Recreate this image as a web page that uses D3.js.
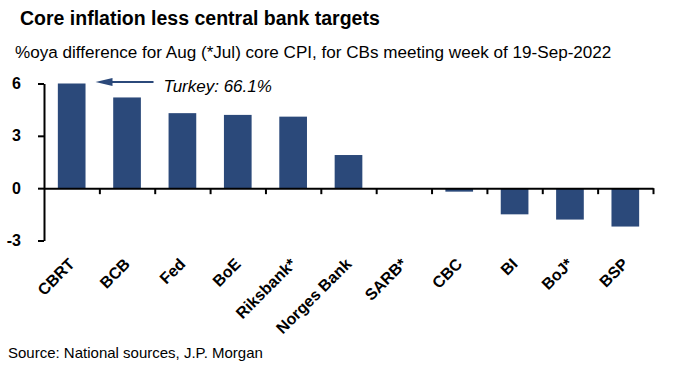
<!DOCTYPE html>
<html>
<head>
<meta charset="utf-8">
<script src="https://cdnjs.cloudflare.com/ajax/libs/d3/7.8.5/d3.min.js"></script>
<style>
  body { margin: 0; background: #fff; }
  svg text { font-family: "Liberation Sans", Arial, sans-serif; }
</style>
</head>
<body>
<main></main>
<script>
// chart data
const banks = ['CBRT', 'BCB', 'Fed', 'BoE', 'Riksbank*', 'Norges Bank', 'SARB*', 'CBC', 'BI', 'BoJ*', 'BSP'];
const gaps = [66.1, 5.2, 4.3, 4.2, 4.1, 1.9, 0.0, -0.2, -1.5, -1.8, -2.2];
const yTicks = [-3, 0, 3, 6];
const title = 'Core inflation less central bank targets';
const subtitle = '%oya difference for Aug (*Jul) core CPI, for CBs meeting week of 19-Sep-2022';
const note = 'Turkey: 66.1%';
const source = 'Source: National sources, J.P. Morgan';

const navy = '#2b497a';

const svg = d3.select('main')
    .append('svg')
    .attr('width', 686)
    .attr('height', 380);

svg.append('text')
    .attr('x', 20)
    .attr('y', 25)
    .attr('font-size', 19.5)
    .attr('font-weight', 'bold')
    .text(title);

svg.append('text')
    .attr('x', 15)
    .attr('y', 58)
    .attr('font-size', 17.1)
    .text(subtitle);

const xScale = d3.scaleBand()
    .domain(banks)
    .range([44, 653])
    .paddingInner(0.5)
    .paddingOuter(0.25);

// CBRT goes off the top, the scale clips it at 6 like the original
const yScale = d3.scaleLinear()
    .domain([-3, 6])
    .range([240.5, 83.5])
    .clamp(true);

// bars
svg.selectAll('rect.bar')
    .data(gaps)
    .enter()
    .append('rect')
    .attr('class', 'bar')
    .attr('x', (d, i) => xScale(banks[i]))
    .attr('width', xScale.bandwidth())
    .attr('y', (d) => yScale(Math.max(d, 0)))
    .attr('height', (d) => Math.abs(yScale(d) - yScale(0)))
    .attr('fill', navy);

// y axis
const yAxis = svg.append('g')
    .attr('transform', 'translate(44, 0)')
    .call(
        d3.axisLeft(yScale)
            .tickValues(yTicks)
            .tickSize(6)
            .tickSizeOuter(0)
            .tickPadding(17)
            .tickFormat((d) => String(d))
    );
yAxis.select('.domain').attr('stroke-width', 2);
yAxis.selectAll('.tick line').attr('stroke-width', 2);
yAxis.selectAll('.tick text')
    .attr('font-size', 16)
    .attr('font-weight', 'bold')
    .attr('font-family', '"Liberation Sans", Arial, sans-serif')
    .attr('fill', '#000');

// zero line with ticks between categories
const edges = d3.scaleLinear()
    .domain([0, banks.length])
    .range(xScale.range());
const xAxis = svg.append('g')
    .attr('transform', `translate(0, ${yScale(0)})`)
    .call(
        d3.axisBottom(edges)
            .tickValues(d3.range(1, banks.length + 1))
            .tickSize(6)
            .tickSizeOuter(0)
            .tickFormat('')
    );
xAxis.select('.domain').attr('stroke-width', 2);
xAxis.selectAll('.tick line').attr('stroke-width', 2);

// category labels
svg.selectAll('text.cat')
    .data(banks)
    .enter()
    .append('text')
    .attr('class', 'cat')
    .attr('transform', (d) => `translate(${xScale(d) + xScale.bandwidth() / 2 + 4}, 265) rotate(-45)`)
    .attr('text-anchor', 'end')
    .attr('font-size', 16)
    .attr('font-weight', 'bold')
    .text((d) => d);

// Turkey annotation
const tipX = xScale(banks[0]) + xScale.bandwidth() + 10;
const tipY = yScale(6) - 1.5;
svg.append('line')
    .attr('x1', tipX + 14)
    .attr('x2', tipX + 58)
    .attr('y1', tipY)
    .attr('y2', tipY)
    .attr('stroke', navy)
    .attr('stroke-width', 2);
svg.append('path')
    .attr('d', `M${tipX},${tipY} L${tipX + 17},${tipY - 4} L${tipX + 17},${tipY + 4} Z`)
    .attr('fill', navy);
svg.append('text')
    .attr('x', tipX + 68)
    .attr('y', tipY + 10)
    .attr('font-size', 17)
    .attr('font-style', 'italic')
    .text(note);

svg.append('text')
    .attr('x', 8)
    .attr('y', 358)
    .attr('font-size', 15)
    .text(source);
</script>
</body>
</html>
